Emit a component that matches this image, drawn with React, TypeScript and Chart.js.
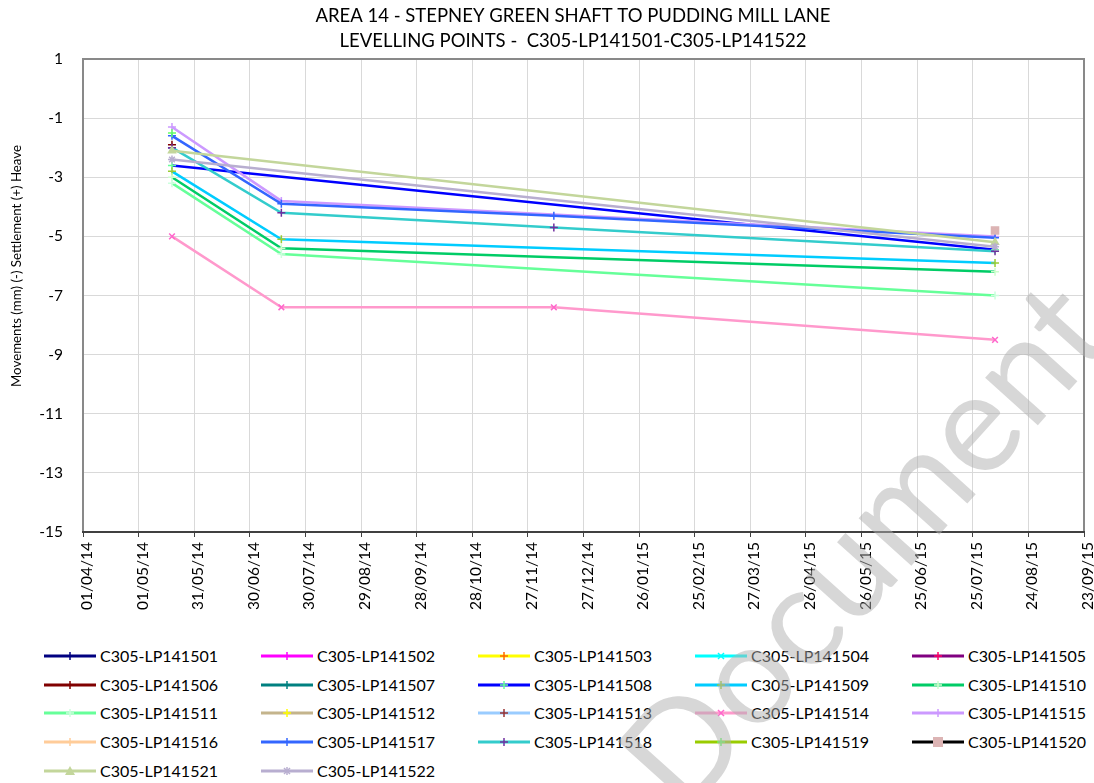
import React, { useEffect, useRef } from 'react';
import { Chart, registerables } from 'chart.js';

Chart.register(...registerables);

// ---------- text ----------
const TITLE_LINES = [
  'AREA 14 - STEPNEY GREEN SHAFT TO PUDDING MILL LANE',
  'LEVELLING POINTS -  C305-LP141501-C305-LP141522',
];
const Y_TITLE = 'Movements (mm) (-) Settlement (+) Heave';
const WATERMARK = 'Document';

// ---------- axes ----------
const AXIS_START = '2014-04-01';
const AXIS_END = '2015-09-23';
const X_STEP_DAYS = 30;
const Y_MIN = -15;
const Y_MAX = 1;
const Y_STEP = 2;

// ---------- data ----------
const SURVEY_DATES = ['2014-05-19', '2014-07-17', '2014-12-11', '2015-08-06'];

const SERIES_NAMES = [
  'C305-LP141501', 'C305-LP141502', 'C305-LP141503', 'C305-LP141504', 'C305-LP141505',
  'C305-LP141506', 'C305-LP141507', 'C305-LP141508', 'C305-LP141509', 'C305-LP141510',
  'C305-LP141511', 'C305-LP141512', 'C305-LP141513', 'C305-LP141514', 'C305-LP141515',
  'C305-LP141516', 'C305-LP141517', 'C305-LP141518', 'C305-LP141519', 'C305-LP141520',
  'C305-LP141521', 'C305-LP141522',
];

const LP141501 = [-2.0, null, null, null];
const LP141502 = [null, null, null, null];
const LP141503 = [null, null, null, null];
const LP141504 = [null, null, null, null];
const LP141505 = [null, null, null, null];
const LP141506 = [-1.9, null, null, null];
const LP141507 = [null, null, null, null];
const LP141508 = [-2.6, null, null, -5.45];
const LP141509 = [-2.8, -5.1, null, -5.9];
const LP141510 = [-3.0, -5.4, null, -6.2];
const LP141511 = [-3.2, -5.6, null, -7.0];
const LP141512 = [null, null, null, null];
const LP141513 = [null, null, null, null];
const LP141514 = [-5.0, -7.4, -7.4, -8.5];
const LP141515 = [-1.3, -3.8, null, -5.0];
const LP141516 = [null, null, null, null];
const LP141517 = [-1.6, -3.9, -4.3, -5.05];
const LP141518 = [-2.0, -4.2, -4.7, -5.5];
const LP141519 = [-1.5, null, null, null];
const LP141520 = [null, null, null, -4.8];
const LP141521 = [-2.1, null, null, -5.2];
const LP141522 = [-2.4, null, null, -5.35];

const SERIES_VALUES: (number | null)[][] = [
  LP141501, LP141502, LP141503, LP141504, LP141505, LP141506, LP141507, LP141508,
  LP141509, LP141510, LP141511, LP141512, LP141513, LP141514, LP141515, LP141516,
  LP141517, LP141518, LP141519, LP141520, LP141521, LP141522,
];

// ---------- styles ----------
const LINE_COLORS = [
  '#000080', '#ff00ff', '#ffff00', '#00ffff', '#800080',
  '#800000', '#008080', '#0000ff', '#00ccff', '#00cc66',
  '#66ff99', '#c4b48c', '#99ccff', '#ff99cc', '#cc99ff',
  '#ffcc99', '#3366ff', '#33cccc', '#99cc00', '#000000',
  '#c3d69b', '#b8aed0',
];
const MARKER_COLORS = [
  '#000080', '#ff00ff', '#ff6600', '#00ffff', '#ff0066',
  '#800000', '#008080', '#66ff99', '#99cc33', '#ccffcc',
  '#ccffdd', '#ffff00', '#993333', '#ff66cc', '#cc99ff',
  '#ffcc99', '#3366ff', '#7030a0', '#66ff66', '#dcb4b4',
  '#c3d69b', '#b8aed0',
];
const MARKER_STYLES = [
  'cross', 'cross', 'cross', 'crossRot', 'cross',
  'cross', 'cross', 'cross', 'cross', 'cross',
  'cross', 'cross', 'cross', 'crossRot', 'cross',
  'cross', 'cross', 'cross', 'cross', 'rect',
  'triangle', 'star',
];

const FONT = 'Lato, "Open Sans", sans-serif';
const DAY_MS = 86400000;
const startMs = Date.parse(AXIS_START);
const dayOffset = (d: string) => Math.round((Date.parse(d) - startMs) / DAY_MS);
const fmtDay = (v: number) => {
  const d = new Date(startMs + v * DAY_MS);
  const dd = String(d.getUTCDate()).padStart(2, '0');
  const mm = String(d.getUTCMonth() + 1).padStart(2, '0');
  const yy = String(d.getUTCFullYear() % 100).padStart(2, '0');
  return `${dd}/${mm}/${yy}`;
};

const CANVAS_W = 1094;
const CANVAS_H = 640;

const decorPlugin = {
  id: 'decor',
  beforeDatasetsDraw(chart: any) {
    const { ctx, chartArea: a } = chart;
    ctx.save();
    ctx.strokeStyle = '#898989';
    ctx.lineWidth = 2;
    ctx.strokeRect(a.left, a.top, a.right - a.left, a.bottom - a.top);
    ctx.strokeStyle = '#404040';
    ctx.beginPath();
    ctx.moveTo(a.left - 1, a.bottom);
    ctx.lineTo(a.right + 1, a.bottom);
    ctx.stroke();
    ctx.restore();
  },
  afterDraw(chart: any) {
    const { ctx, chartArea: a } = chart;
    ctx.save();
    ctx.fillStyle = '#000';
    ctx.textAlign = 'center';
    ctx.textBaseline = 'middle';
    ctx.font = `18.5px ${FONT}`;
    const cx = 573;
    TITLE_LINES.forEach((t, i) => ctx.fillText(t, cx, 16 + i * 25));
    ctx.translate(17, (0 + a.bottom) / 2);
    ctx.rotate(-Math.PI / 2);
    ctx.font = `13.3px ${FONT}`;
    ctx.fillText(Y_TITLE, 0, 0);
    ctx.restore();
  },
};

function MarkerSvg({ style, color }: { style: string; color: string }) {
  const c = 26;
  const cy = 8;
  const r = 4;
  if (style === 'cross')
    return <g stroke={color} strokeWidth={1.5}><line x1={c - r} y1={cy} x2={c + r} y2={cy} /><line x1={c} y1={cy - r} x2={c} y2={cy + r} /></g>;
  if (style === 'crossRot')
    return <g stroke={color} strokeWidth={1.5}><line x1={c - 3} y1={cy - 3} x2={c + 3} y2={cy + 3} /><line x1={c - 3} y1={cy + 3} x2={c + 3} y2={cy - 3} /></g>;
  if (style === 'rect') return <rect x={c - 5} y={cy - 5} width={10} height={10} fill={color} />;
  if (style === 'triangle') return <polygon points={`${c},${cy - 5} ${c - 5},${cy + 4} ${c + 5},${cy + 4}`} fill={color} />;
  return <g stroke={color} strokeWidth={1.5}><line x1={c - 3} y1={cy - 3} x2={c + 3} y2={cy + 3} /><line x1={c - 3} y1={cy + 3} x2={c + 3} y2={cy - 3} /><line x1={c} y1={cy - 4} x2={c} y2={cy + 4} /></g>;
}

export default function App() {
  const ref = useRef<HTMLCanvasElement | null>(null);

  useEffect(() => {
    if (!ref.current) return;
    const datasets = SERIES_NAMES.map((name, i) => ({
      label: name,
      data: SURVEY_DATES.map((d, j) => ({ x: dayOffset(d), y: SERIES_VALUES[i][j] }))
        .filter((p) => p.y !== null),
      borderColor: LINE_COLORS[i],
      backgroundColor: MARKER_COLORS[i],
      pointBorderColor: MARKER_COLORS[i],
      pointBackgroundColor: MARKER_COLORS[i],
      pointStyle: MARKER_STYLES[i],
      pointRadius: MARKER_STYLES[i] === 'rect' ? 5 : 4,
      pointBorderWidth: 1.5,
      borderWidth: 2.5,
      tension: 0,
      order: SERIES_NAMES.length - i,
    }));

    const chart = new Chart(ref.current, {
      type: 'line',
      data: { datasets },
      options: {
        animation: false,
        responsive: false,
        maintainAspectRatio: false,
        devicePixelRatio: 1,
        layout: { padding: { top: 59, right: 10, left: 0, bottom: 0 } },
        plugins: {
          legend: { display: false },
          title: { display: false },
          tooltip: { enabled: false },
        },
        scales: {
          x: {
            type: 'linear',
            min: 0,
            max: dayOffset(AXIS_END),
            afterFit: (s: any) => { s.height = CANVAS_H - 532; s.paddingRight = 0; s.paddingLeft = 0; },
            border: { display: false },
            grid: { color: '#d9d9d9', tickColor: '#404040', tickLength: 5, drawTicks: true, lineWidth: 1 },
            ticks: {
              stepSize: X_STEP_DAYS,
              autoSkip: false,
              maxRotation: 90,
              minRotation: 90,
              padding: 5,
              labelOffset: 4,
              color: '#000',
              font: { family: FONT, size: 15.5 },
              callback: (v: any) => fmtDay(Number(v)),
            },
          },
          y: {
            type: 'linear',
            min: Y_MIN,
            max: Y_MAX,
            afterFit: (s: any) => { s.width = 83; s.paddingTop = 0; s.paddingBottom = 0; },
            border: { display: false },
            grid: { color: '#d9d9d9', drawTicks: false, lineWidth: 1 },
            ticks: {
              stepSize: Y_STEP,
              padding: 20,
              color: '#000',
              font: { family: FONT, size: 15.5 },
            },
          },
        },
      },
      plugins: [decorPlugin],
    } as any);
    return () => chart.destroy();
  }, []);

  return (
    <div style={{ position: 'absolute', left: 0, top: 0, width: 1094, height: 783, background: '#fff', overflow: 'hidden' }}>
      <canvas ref={ref} width={CANVAS_W} height={CANVAS_H} style={{ display: 'block', width: CANVAS_W, height: CANVAS_H }} />
      {SERIES_NAMES.map((name, i) => {
        const col = i % 5;
        const row = Math.floor(i / 5);
        const left = 44 + col * 217;
        const top = 656 + row * 28.7 - 8;
        return (
          <div key={name} style={{ position: 'absolute', left, top, height: 16, display: 'flex', alignItems: 'center', whiteSpace: 'nowrap' }}>
            <svg width={52} height={16} style={{ display: 'block' }}>
              <line x1={0} y1={8} x2={52} y2={8} stroke={LINE_COLORS[i]} strokeWidth={3} />
              <MarkerSvg style={MARKER_STYLES[i]} color={MARKER_COLORS[i]} />
            </svg>
            <span style={{ marginLeft: 4, font: `16px ${FONT}`, color: '#000', lineHeight: '16px' }}>{name}</span>
          </div>
        );
      })}
      <svg width={1094} height={783} style={{ position: 'absolute', left: 0, top: 0, pointerEvents: 'none' }}>
        <text x={684} y={818} transform="rotate(-48 684 818)" fontFamily={FONT} fontSize={140} fill="#b0b0b0" fillOpacity={0.5}>{WATERMARK}</text>
      </svg>
    </div>
  );
}
